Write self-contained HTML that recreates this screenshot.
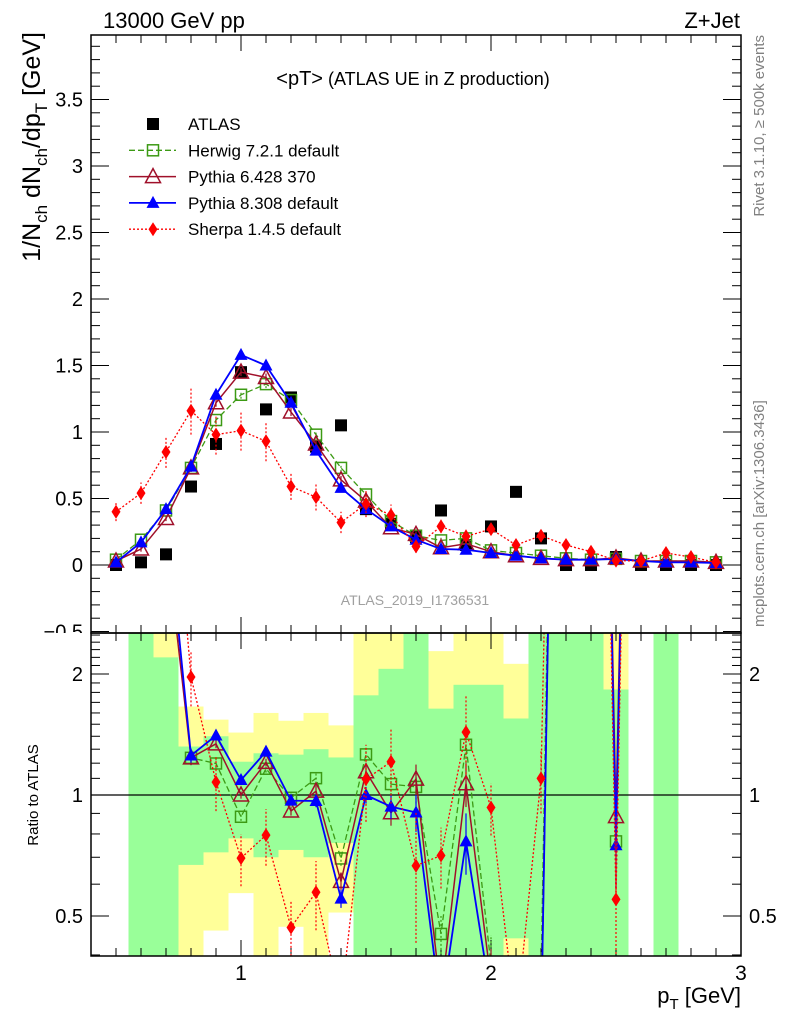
<!DOCTYPE html>
<html><head><meta charset="utf-8"><style>
html,body{margin:0;background:#fff;overflow:hidden;width:786px;height:1024px;}
svg{display:block;font-family:"Liberation Sans",sans-serif;}
</style></head><body>
<svg id="chart" width="786" height="1024" viewBox="0 0 786 1024">
<defs>
<clipPath id="cm"><rect x="91" y="35" width="650" height="598"/></clipPath>
<clipPath id="cr"><rect x="91" y="633" width="650" height="323"/></clipPath>
<clipPath id="clab"><rect x="0" y="0" width="91" height="633"/></clipPath>
</defs>
<g id="bands" clip-path="url(#cr)"></g>
<g id="mainTicks"></g>
<g id="ratioTicks"></g>
<g id="mainSeries" clip-path="url(#cm)"></g>
<line x1="91" y1="795" x2="741" y2="795" stroke="#000" stroke-width="1.3"/>
<g id="ratioSeries" clip-path="url(#cr)"></g>
<rect x="91" y="35" width="650" height="598" fill="none" stroke="#000" stroke-width="1.5"/>
<rect x="91" y="633" width="650" height="323" fill="none" stroke="#000" stroke-width="1.5"/>
<text x="103" y="28" font-size="22">13000 GeV pp</text>
<text x="740" y="28" font-size="22" text-anchor="end">Z+Jet</text>
<text x="413" y="85" font-size="18" text-anchor="middle"><tspan font-size="20">&lt;pT&gt;</tspan> (ATLAS UE in Z production)</text>
<text x="415" y="605" font-size="14" fill="#a0a0a0" text-anchor="middle">ATLAS_2019_I1736531</text>
<text transform="translate(764,35) rotate(-90)" font-size="15" fill="#808080" text-anchor="end">Rivet 3.1.10, ≥ 500k events</text>
<text transform="translate(764,627) rotate(-90)" font-size="15" fill="#808080" text-anchor="start">mcplots.cern.ch [arXiv:1306.3436]</text>
<text transform="translate(40,32) rotate(-90)" font-size="25" text-anchor="end">1/N<tspan font-size="17" dy="7">ch</tspan><tspan dy="-7"> dN</tspan><tspan font-size="17" dy="7">ch</tspan><tspan dy="-7">/dp</tspan><tspan font-size="17" dy="7">T</tspan><tspan dy="-7"> [GeV]</tspan></text>
<text transform="translate(38,795) rotate(-90)" font-size="15" text-anchor="middle">Ratio to ATLAS</text>
<text x="741" y="1003" font-size="22" text-anchor="end">p<tspan font-size="15" dy="6">T</tspan><tspan dy="-6"> [GeV]</tspan></text>
<g id="legend"></g>
</svg>
<script>
const xs=[0.5,0.6,0.7,0.8,0.9,1.0,1.1,1.2,1.3,1.4,1.5,1.6,1.7,1.8,1.9,2.0,2.1,2.2,2.3,2.4,2.5,2.6,2.7,2.8,2.9];
const atlas=[0,0.02,0.08,0.59,0.91,1.45,1.17,1.26,0.89,1.05,0.42,0.31,0.21,0.41,0.15,0.29,0.55,0.20,0,0,0.06,0,0,0,0];
const herwig=[0.04,0.19,0.41,0.73,1.09,1.28,1.36,1.24,0.98,0.73,0.53,0.33,0.22,0.185,0.20,0.11,0.09,0.07,0.05,0.04,0.046,0.03,0.03,0.03,0.02];
const pythia6=[0.03,0.12,0.35,0.73,1.22,1.45,1.41,1.15,0.91,0.64,0.48,0.28,0.23,0.13,0.16,0.10,0.07,0.05,0.04,0.04,0.053,0.03,0.03,0.03,0.02];
const pythia8=[0.02,0.17,0.42,0.74,1.28,1.58,1.50,1.22,0.86,0.58,0.42,0.29,0.19,0.12,0.115,0.09,0.07,0.05,0.04,0.04,0.045,0.03,0.02,0.02,0.015];
const sherpa=[0.40,0.54,0.85,1.16,0.98,1.01,0.93,0.59,0.51,0.32,0.46,0.375,0.14,0.29,0.215,0.27,0.15,0.22,0.15,0.10,0.033,0.03,0.09,0.06,0.02];
const sherpaErr=[0.07,0.08,0.12,0.18,0.15,0.15,0.15,0.1,0.1,0.08,0.1,0.08,0.05,0.05,0.05,0.04,0.04,0.04,0.03,0.03,0.02,0.02,0.02,0.02,0.02];
const herwigErr=[0.01,0.02,0.02,0.03,0.03,0.03,0.03,0.03,0.03,0.03,0.02,0.02,0.02,0.02,0.02,0.02,0.01,0.01,0.01,0.01,0.01,0.01,0.01,0.01,0.01];
const greenLo=[0,0.3,0.3,0.67,0.72,0.78,0.70,0.73,0.70,0.76,0.3,0.3,0.3,0.3,0.3,0.3,0.44,0.3,0.3,0.3,0.3,0,0.3,0,0];
const greenHi=[0,3,2.2,1.32,1.4,1.21,1.27,1.26,1.30,1.24,1.77,2.06,3,1.64,1.88,1.88,1.55,3,3,3,1.83,0,3,0,0];
const yellowLo=[0,0.3,0.3,0.3,0.46,0.57,0.3,0.47,0.3,0.51,0.3,0.3,0.3,0.3,0.3,0.3,0.3,0.3,0.3,0.3,0.3,0,0.3,0,0];
const yellowHi=[0,3,3,1.66,1.54,1.43,1.6,1.53,1.6,1.49,3,3,3,2.28,3,3,2.12,3,3,3,3,0,3,0,0];
const yTicks=["−0.5","0","0.5","1","1.5","2","2.5","3","3.5"];
const rTicks=["0.5","1","2"];
const xTicks=["1","2","3"];

const NS="http://www.w3.org/2000/svg";
const RB=956;
const xS=v=>91+(v-0.4)*250;
const yM=v=>565-v*133;
const yR=r=>795-121*Math.log2(r);
function mk(tag,attrs,parent){const e=document.createElementNS(NS,tag);for(const k in attrs)e.setAttribute(k,attrs[k]);parent.appendChild(e);return e;}
const bands=document.getElementById('bands');
for(let i=0;i<xs.length;i++){
  const x0=xS(xs[i]-0.05);
  if(yellowHi[i]>0){const r=mk('rect',{x:x0,y:yR(yellowHi[i]),width:25,height:yR(yellowLo[i])-yR(yellowHi[i]),fill:'#ffff99'},bands);
    
    }
  if(greenHi[i]>0){const r=mk('rect',{x:x0,y:yR(greenHi[i]),width:25,height:yR(greenLo[i])-yR(greenHi[i]),fill:'#99ff99'},bands);
    
    }
}
const mt=document.getElementById('mainTicks');
for(let k=-5;k<=39;k++){const v=k/10;const y=yM(v);if(y<35||y>633)continue;const maj=k%5===0;const L=maj?18:9;
  mk('line',{x1:91,x2:91+L,y1:y,y2:y,stroke:'#000','stroke-width':1},mt);
  mk('line',{x1:741,x2:741-L,y1:y,y2:y,stroke:'#000','stroke-width':1},mt);}
yTicks.forEach(t=>{const v=parseFloat(t.replace('−','-'));const e=mk('text',{x:83,y:yM(v)+7,'font-size':20,'text-anchor':'end','clip-path':'url(#clab)'},mt);e.textContent=t;
  
  });
for(let k=5;k<=29;k++){const v=k/10;const x=xS(v);const maj=k%10===0;const L=maj?16:8;
  mk('line',{x1:x,x2:x,y1:35,y2:35+L,stroke:'#000','stroke-width':1},mt);
  mk('line',{x1:x,x2:x,y1:633,y2:633-L,stroke:'#000','stroke-width':1},mt);
  mk('line',{x1:x,x2:x,y1:RB,y2:RB-L,stroke:'#000','stroke-width':1},mt);
  mk('line',{x1:x,x2:x,y1:633,y2:633+L,stroke:'#000','stroke-width':1},mt);}
xTicks.forEach(t=>{const e=mk('text',{x:xS(+t),y:980,'font-size':21,'text-anchor':'middle'},mt);e.textContent=t;
  
  });
const rt=document.getElementById('ratioTicks');
for(let k=4;k<=25;k++){const r=k/10;const y=yR(r);if(y<633||y>RB)continue;const maj=(k===5||k===10||k===20);const L=maj?18:9;
  mk('line',{x1:91,x2:91+L,y1:y,y2:y,stroke:'#000','stroke-width':1},rt);
  mk('line',{x1:741,x2:741-L,y1:y,y2:y,stroke:'#000','stroke-width':1},rt);}
rTicks.forEach(t=>{const y=yR(+t)+7;
  let e=mk('text',{x:83,y:y,'font-size':20,'text-anchor':'end'},rt);e.textContent=t;
  
  
  e=mk('text',{x:749,y:y,'font-size':20,'text-anchor':'start'},rt);e.textContent=t;
  
  });
function marker(g,type,x,y,color){
  let e;
  if(type==='sq')e=mk('rect',{x:x-6,y:y-6,width:12,height:12,fill:'#000'},g);
  else if(type==='osq')e=mk('rect',{x:x-5.5,y:y-5.5,width:11,height:11,fill:'none',stroke:color,'stroke-width':1.5},g);
  else if(type==='otri')e=mk('polygon',{points:`${x},${y-8} ${x-7.5},${y+6} ${x+7.5},${y+6}`,fill:'none',stroke:color,'stroke-width':1.5},g);
  else if(type==='tri')e=mk('polygon',{points:`${x},${y-7} ${x-6.5},${y+5} ${x+6.5},${y+5}`,fill:color},g);
  else e=mk('polygon',{points:`${x},${y-7} ${x+4.5},${y} ${x},${y+7} ${x-4.5},${y}`,fill:color},g);
  return e;
}
const series=[
 {name:'herwig',vals:herwig,err:herwigErr,color:'#3c9a14',type:'osq',dash:'6,3',w:1.3},
 {name:'pythia6',vals:pythia6,err:herwigErr,color:'#a0102a',type:'otri',dash:'',w:1.5},
 {name:'pythia8',vals:pythia8,err:herwigErr,color:'#0000ff',type:'tri',dash:'',w:1.8},
 {name:'sherpa',vals:sherpa,err:sherpaErr,color:'#ff0000',type:'dia',dash:'2,2',w:1.3}];
const ms=document.getElementById('mainSeries');
const ag=mk('g',{},ms);


atlas.forEach((v,i)=>{const m=marker(ag,'sq',xS(xs[i]),yM(v));
  
  });
const rs=document.getElementById('ratioSeries');
series.forEach(s=>{
  const g=mk('g',{},ms);
  
  
  const pts=s.vals.map((v,i)=>xS(xs[i])+','+yM(v)).join(' ');
  mk('polyline',{points:pts,fill:'none',stroke:s.color,'stroke-width':s.w,'stroke-dasharray':s.dash},g);
  s.vals.forEach((v,i)=>{const x=xS(xs[i]);
    mk('line',{x1:x,x2:x,y1:yM(v-s.err[i]),y2:yM(v+s.err[i]),stroke:s.color,'stroke-width':1.2,'stroke-dasharray':s.dash?'2,2':''},g);
    const m=marker(g,s.type,x,yM(v),s.color);
    
    });
  const rg=mk('g',{},rs);
  
  
  const rat=s.vals.map((v,i)=>atlas[i]>0?v/atlas[i]:1000);
  const rp=rat.map((r,i)=>xS(xs[i])+','+yR(r)).join(' ');
  mk('polyline',{points:rp,fill:'none',stroke:s.color,'stroke-width':s.w,'stroke-dasharray':s.dash},rg);
  rat.forEach((r,i)=>{if(atlas[i]<=0)return;const x=xS(xs[i]);const e=s.err[i]/atlas[i];
    mk('line',{x1:x,x2:x,y1:yR(Math.max(r-e,0.01)),y2:yR(r+e),stroke:s.color,'stroke-width':1.2,'stroke-dasharray':s.dash?'2,2':''},rg);
    const m=marker(rg,s.type,x,yR(r),s.color);
    
    });
});
const lg=document.getElementById('legend');
const labels=['ATLAS','Herwig 7.2.1 default','Pythia 6.428 370','Pythia 8.308 default','Sherpa 1.4.5 default'];
labels.forEach((t,i)=>{const y=124+i*26.3;
  const row=mk('g',{},lg);
  
  
  if(i===0)marker(row,'sq',153,y);
  else{const s=series[i-1];mk('line',{x1:129,x2:176,y1:y,y2:y,stroke:s.color,'stroke-width':s.w,'stroke-dasharray':s.dash},row);marker(row,s.type,153,y,s.color);}
  const e=mk('text',{x:188,y:y+6,'font-size':17},row);e.textContent=t;});
</script>
</body></html>
